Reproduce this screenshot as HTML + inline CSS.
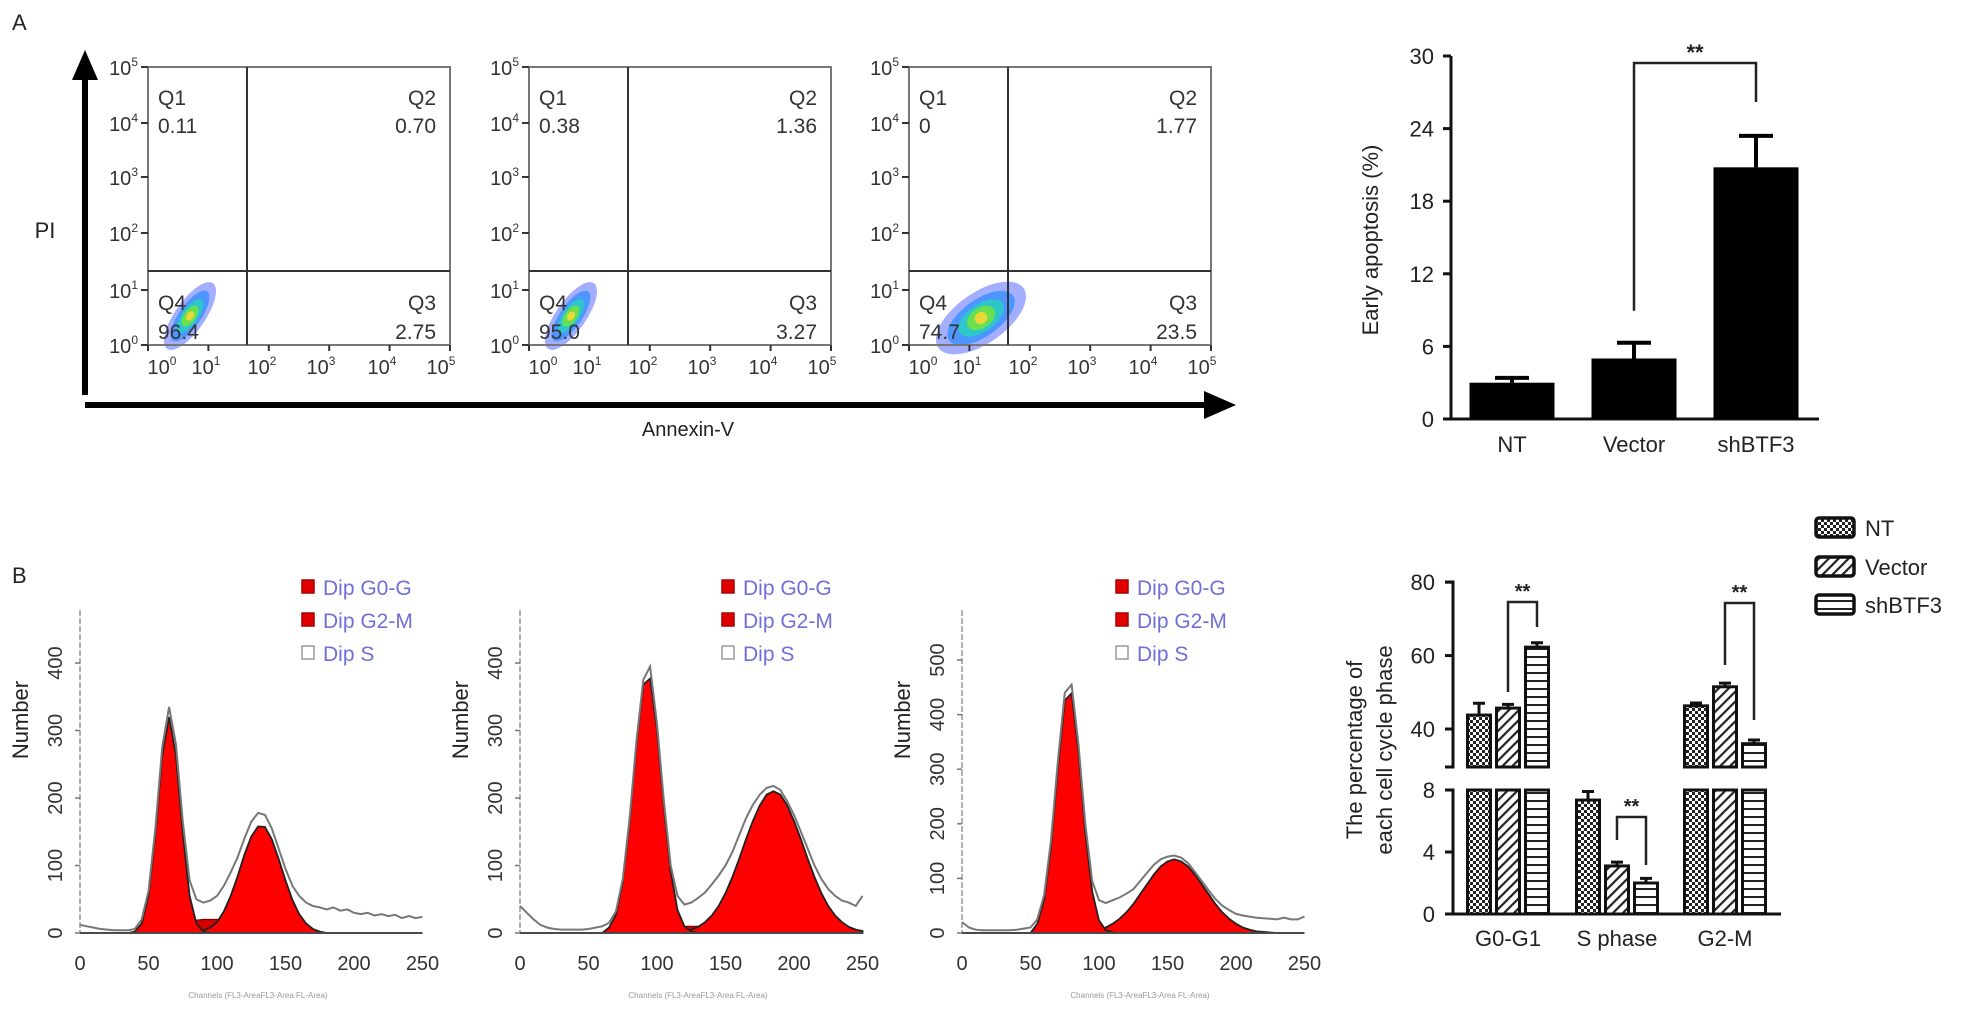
<!DOCTYPE html>
<html><head><meta charset="utf-8"><style>
html,body{margin:0;padding:0;background:#fff;}
svg{display:block;font-family:"Liberation Sans",Arial,sans-serif;}
</style></head><body>
<svg id="fig" width="1967" height="1014" viewBox="0 0 1967 1014" xmlns="http://www.w3.org/2000/svg">
<defs>
<pattern id="pNT" width="6" height="6" patternUnits="userSpaceOnUse"><rect width="6" height="6" fill="#fff"/><rect width="3" height="3" fill="#222"/><rect x="3" y="3" width="3" height="3" fill="#222"/></pattern>
<pattern id="pVec" width="7" height="7" patternUnits="userSpaceOnUse" patternTransform="rotate(45)"><rect width="7" height="7" fill="#fff"/><rect width="2.2" height="7" fill="#222"/></pattern>
<pattern id="pSh" width="8" height="8" patternUnits="userSpaceOnUse"><rect width="8" height="8" fill="#fff"/><rect width="8" height="2" fill="#222"/></pattern>
</defs>
<text x="12" y="30" font-size="22" fill="#222">A</text>
<text x="12" y="583" font-size="22" fill="#222">B</text>
<g id="flow"></g>
<g id="barA"></g>
<g id="hists"></g>
<g id="barB"></g>
</svg>
<script>
// ---------- Panel A bar chart data ----------
const apoCats = ['NT','Vector','shBTF3'];
const apoVals = [3.0, 5.0, 20.8];
const apoErr = [0.4, 1.3, 2.6];
const apoTicks = [0,6,12,18,24,30];

// ---------- Flow quadrant data ----------
const flowQ1 = ['0.11','0.38','0'];
const flowQ2 = ['0.70','1.36','1.77'];
const flowQ3 = ['2.75','3.27','23.5'];
const flowQ4 = ['96.4','95.0','74.7'];

// ---------- Histogram data (channel step 5, 0..250) ----------
const channels = [0,5,10,15,20,25,30,35,40,45,50,55,60,65,70,75,80,85,90,95,100,105,110,115,120,125,130,135,140,145,150,155,160,165,170,175,180,185,190,195,200,205,210,215,220,225,230,235,240,245,250];
const h1G1 = [0,0,0,0,0,0,0,0,2,14,55,147,263,320,263,147,55,14,2,0,0,0,0,0,0,0,0,0,0,0,0,0,0,0,0,0,0,0,0,0,0,0,0,0,0,0,0,0,0,0,0];
const h1G2 = [0,0,0,0,0,0,0,0,0,0,0,0,0,0,0,0,0,0,4,8,16,32,55,84,116,143,158,157,139,110,78,49,28,14,6,2,0,0,0,0,0,0,0,0,0,0,0,0,0,0,0];
const h1S = [0,0,0,0,0,0,0,0,0,0,0,0,3,6,10,14,17,19,20,20,20,19,17,14,11,8,5,3,1,0,0,0,0,0,0,0,0,0,0,0,0,0,0,0,0,0,0,0,0,0,0];
const h1Tot = [12,10,8,6,5,4,4,4,6,20,62,155,275,335,280,165,78,50,45,48,55,70,90,112,140,165,178,175,155,125,95,70,55,45,40,38,35,38,33,35,30,28,30,26,28,25,27,22,25,22,24];
const h2G1 = [0,0,0,0,0,0,0,0,0,0,0,0,0,8,27,76,165,280,368,377,301,187,91,34,10,2,0,0,0,0,0,0,0,0,0,0,0,0,0,0,0,0,0,0,0,0,0,0,0,0,0];
const h2G2 = [0,0,0,0,0,0,0,0,0,0,0,0,0,0,0,0,0,0,0,0,0,0,0,0,3,5,9,16,26,40,59,83,110,139,166,189,205,210,205,189,166,139,110,83,59,40,26,16,9,5,3];
const h2S = [0,0,0,0,0,0,0,0,0,0,0,0,0,0,0,0,0,0,0,3,5,7,8,9,10,10,10,10,9,8,7,6,5,4,3,2,1,0,0,0,0,0,0,0,0,0,0,0,0,0,0];
const h2Tot = [40,30,20,12,8,6,5,5,5,5,6,8,10,15,32,80,170,285,375,395,310,195,100,55,42,45,52,60,72,85,100,120,145,170,190,205,215,218,212,195,175,150,125,100,80,65,55,48,45,40,55];
const h3G1 = [0,0,0,0,0,0,0,0,0,0,0,17,61,159,303,426,439,332,185,76,23,5,1,0,0,0,0,0,0,0,0,0,0,0,0,0,0,0,0,0,0,0,0,0,0,0,0,0,0,0,0];
const h3G2 = [0,0,0,0,0,0,0,0,0,0,0,0,0,0,0,0,0,0,0,0,0,10,17,26,38,53,71,89,107,122,131,135,131,122,107,89,71,53,38,26,17,10,6,3,2,1,0,0,0,0,0];
const h3S = [0,0,0,0,0,0,0,0,0,0,0,0,0,0,0,0,2,4,6,8,9,10,10,9,8,7,5,4,3,2,1,0,0,0,0,0,0,0,0,0,0,0,0,0,0,0,0,0,0,0,0];
const h3Tot = [20,10,6,5,5,5,5,5,6,8,10,25,70,170,315,440,455,345,200,95,60,55,60,65,72,80,95,110,125,135,140,142,138,128,112,95,78,62,50,42,35,32,30,28,27,26,25,28,25,25,30];
const histXTicks = [0,50,100,150,200,250];
const histYTicks12 = [0,100,200,300,400];
const histYTicks3 = [0,100,200,300,400,500];

// ---------- Panel B bar chart data ----------
const phaseCats = ['G0-G1','S phase','G2-M'];
const ntPhase = [43.8, 7.35, 46.3];
const ntPhaseErr = [3.2, 0.55, 0.8];
const vecPhase = [45.7, 3.1, 51.5];
const vecPhaseErr = [1.0, 0.25, 1.0];
const shPhase = [62.3, 2.0, 36.0];
const shPhaseErr = [1.2, 0.3, 1.0];
const phaseTicksLow = [0,4,8];
const phaseTicksHigh = [40,60,80];

const NS='http://www.w3.org/2000/svg';
function el(tag, attrs, parent, txt){const e=document.createElementNS(NS,tag);for(const k in attrs)e.setAttribute(k,attrs[k]);if(txt!==undefined)e.textContent=txt;parent.appendChild(e);return e;}

// ================= Flow plots =================
const flow=document.getElementById('flow');
const flowLeft=[148,529,909];
const FT=67,FB=345,FW=302;
const yTickY=[345,290,233,177,123,67];
const xTickOff=[18,62,118,177,238,297];
// axes arrows
let a=el('line',{x1:85,y1:395,x2:85,y2:78,stroke:'#000','stroke-width':6},flow);


a=el('polygon',{points:'85,50 72,80 98,80',fill:'#000'},flow);


a=el('line',{x1:85,y1:405,x2:1205,y2:405,stroke:'#000','stroke-width':6},flow);


a=el('polygon',{points:'1236,405 1204,391 1204,419',fill:'#000'},flow);


a=el('text',{x:45,y:238,'font-size':22,'text-anchor':'middle',fill:'#222'},flow,'PI');


a=el('text',{x:688,y:436,'font-size':20,'text-anchor':'middle',fill:'#222'},flow,'Annexin-V');



flowLeft.forEach((L,p)=>{
  const g=el('g',{},flow);
  
  
  // density blob
  const cx = p===2 ? L+72 : L+42, cy = p===2 ? 318 : 316;
  const rot = p===2 ? -35 : -55;
  const scale = p===2 ? 1.3 : 1;
  const layers=[[40,15,'#5a6cff',0.55],[30,11,'#2a8cff',0.7],[20,8,'#28d0c0',0.85],[12,6,'#6ee04a',0.95],[5,3.5,'#e8d83a',1]];
  layers.forEach((ly,i)=>{
    const e=el('ellipse',{cx:cx,cy:cy,rx:ly[0]*scale,ry:ly[1]*scale*(p===2?1.3:1),fill:ly[2],opacity:ly[3],transform:`rotate(${rot} ${cx} ${cy})`},g);
    
    
  });
  let r=el('rect',{x:L,y:FT,width:FW,height:FB-FT,fill:'none',stroke:'#777','stroke-width':2},g);
  
  
  r=el('line',{x1:L+99,y1:FT,x2:L+99,y2:FB,stroke:'#333','stroke-width':2},g);
  
  
  r=el('line',{x1:L,y1:271,x2:L+FW,y2:271,stroke:'#333','stroke-width':2},g);
  
  
  // y ticks
  yTickY.forEach((y,i)=>{
    let t=el('line',{x1:L-7,y1:y,x2:L,y2:y,stroke:'#333','stroke-width':2},g);
    
    
    t=el('text',{x:L-10,y:y+8,'font-size':20,'text-anchor':'end',fill:'#333'},g);
    
    
    const t1=el('tspan',{},t,'10');const t2=el('tspan',{dy:-9,'font-size':12},t,String(i));
  });
  xTickOff.forEach((o,i)=>{
    let t=el('line',{x1:L+i*60.4,y1:FB,x2:L+i*60.4,y2:FB+6,stroke:'#333','stroke-width':2},g);
    
    
    t=el('text',{x:L+o-4,y:374,'font-size':20,'text-anchor':'middle',fill:'#333'},g);
    
    
    el('tspan',{},t,'10');el('tspan',{dy:-9,'font-size':12},t,String(i));
  });
  const q=[['Q1',L+10,105,'start'],[flowQ1[p],L+10,133,'start'],['Q2',L+FW-14,105,'end'],[flowQ2[p],L+FW-14,133,'end'],
           ['Q4',L+10,310,'start'],[flowQ4[p],L+10,339,'start'],['Q3',L+FW-14,310,'end'],[flowQ3[p],L+FW-14,339,'end']];
  q.forEach(d=>{
    const t=el('text',{x:d[1],y:d[2],'font-size':21,'text-anchor':d[3],fill:'#333'},g,d[0]);
    
    
  });
});

// ================= Panel A bar chart =================
const bA=document.getElementById('barA');
const aX0=1451, aY0=419, aK=12.1;
const aCx=[1512,1634,1756], aW=85;
function ay(v){return aY0-v*aK;}
let e=el('line',{x1:aX0,y1:ay(30),x2:aX0,y2:aY0,stroke:'#111','stroke-width':3},bA);


e=el('line',{x1:1443,y1:aY0,x2:1819,y2:aY0,stroke:'#111','stroke-width':3},bA);


apoTicks.forEach(v=>{
  let t=el('line',{x1:aX0-8,y1:ay(v),x2:aX0,y2:ay(v),stroke:'#111','stroke-width':3},bA);
  
  
  t=el('text',{x:1434,y:ay(v)+8,'font-size':22,'text-anchor':'end',fill:'#222'},bA,String(v));
  
  
});
apoCats.forEach((c,i)=>{
  const cx=aCx[i];
  let b=el('rect',{x:cx-aW/2,y:ay(apoVals[i]),width:aW,height:aY0-ay(apoVals[i]),fill:'#000'},bA);
  
  
  b=el('path',{d:`M${cx},${ay(apoVals[i])} V${ay(apoVals[i]+apoErr[i])} M${cx-17},${ay(apoVals[i]+apoErr[i])} H${cx+17}`,stroke:'#000','stroke-width':4,fill:'none'},bA);
  
  
  b=el('text',{x:cx,y:452,'font-size':22,'text-anchor':'middle',fill:'#222'},bA,c);
  
  
});
e=el('path',{d:`M${aCx[1]},${ay(apoVals[1]+apoErr[1])-32} V63 H${aCx[2]} V102`,stroke:'#222','stroke-width':2.5,fill:'none'},bA);


e=el('text',{x:(aCx[1]+aCx[2])/2,y:60,'font-size':22,'font-weight':'bold','text-anchor':'middle',fill:'#222'},bA,'**');


e=el('text',{x:0,y:0,'font-size':22,'text-anchor':'middle',fill:'#222',transform:'translate(1378,240) rotate(-90)'},bA,'Early apoptosis  (%)');



// ================= Histograms =================
const H=document.getElementById('hists');
const hOrig=[80,520,962], hK=1.37, hBase=933;
const hScale=[0.675,0.675,0.546];
const hG1=[h1G1,h2G1,h3G1], hG2=[h1G2,h2G2,h3G2], hS=[h1S,h2S,h3S], hTot=[h1Tot,h2Tot,h3Tot];
const hYT=[histYTicks12,histYTicks12,histYTicks3];
function areaPath(arr,hx,hy){let d=`M${hx(channels[0])},${hy(0)}`;arr.forEach((v,i)=>{d+=` L${hx(channels[i]).toFixed(1)},${hy(v).toFixed(1)}`;});d+=` L${hx(channels[channels.length-1])},${hy(0)} Z`;return d;}
function linePath(arr,hx,hy){return arr.map((v,i)=>(i?'L':'M')+hx(channels[i]).toFixed(1)+','+hy(v).toFixed(1)).join(' ');}
for(let p=0;p<3;p++){
  const X0=hOrig[p], sc=hScale[p];
  const hx=c=>X0+c*hK, hy=v=>hBase-v*sc;
  const g=el('g',{},H);
  
  
  let t=el('line',{x1:X0,y1:610,x2:X0,y2:hBase,stroke:'#999','stroke-width':1.5,'stroke-dasharray':'6 2'},g);
  
  
  hYT[p].forEach(v=>{
    let k=el('line',{x1:X0-5,y1:hy(v),x2:X0,y2:hy(v),stroke:'#777','stroke-width':1.5},g);
    
    
    k=el('text',{x:0,y:0,'font-size':20,'text-anchor':'middle',fill:'#333',transform:`translate(${X0-18},${hy(v)}) rotate(-90)`},g,String(v));
    
    
  });
  histXTicks.forEach(v=>{
    const k=el('text',{x:hx(v),y:970,'font-size':20,'text-anchor':'middle',fill:'#333'},g,String(v));
    
    
  });
  t=el('text',{x:0,y:0,'font-size':22,'text-anchor':'middle',fill:'#222',transform:`translate(${X0-52},720) rotate(-90)`},g,'Number');
  
  
  t=el('text',{x:X0+178,y:998,'font-size':8,'text-anchor':'middle',fill:'#999'},g,'Channels (FL3-AreaFL3-Area FL-Area)');
  
  
  // series
  t=el('path',{d:areaPath(hS[p],hx,hy),fill:'#d40000',stroke:'#700','stroke-width':1.2},g);
  
  
  t=el('path',{d:areaPath(hG2[p],hx,hy),fill:'#ff0000',stroke:'#222','stroke-width':1.8},g);
  
  
  t=el('path',{d:areaPath(hG1[p],hx,hy),fill:'#ff0000',stroke:'#222','stroke-width':1.8},g);
  
  
  t=el('path',{d:linePath(hTot[p],hx,hy),fill:'none',stroke:'#777','stroke-width':2},g);
  
  
  t=el('line',{x1:X0,y1:hBase,x2:hx(250),y2:hBase,stroke:'#555','stroke-width':1.5},g);
  
  
  // legend
  const lx=[308,728,1122][p];
  [['Dip G0-G','#e00000'],['Dip G2-M','#e00000'],['Dip S','none']].forEach((d,i)=>{
    const yy=587+i*33;
    let s=el('rect',{x:lx-6,y:yy-7,width:12,height:13,fill:d[1]==='none'?'#fff':d[1],stroke:d[1]==='none'?'#999':'#a00','stroke-width':1.5},g);
    
    
    s=el('text',{x:lx+15,y:yy+8,'font-size':21,fill:'#6f6fd8'},g,d[0]);
    
    
  });
}

// ================= Panel B bar chart =================
const B=document.getElementById('barB');
const bX0=1453;
function yLow(v){return 914-v*15.5;}
function yHigh(v){return 729-(v-40)*3.67;}
function yAny(v){return v<=8?yLow(v):yHigh(v);}
e=el('path',{d:'M1445,582 H1453 V767 H1445',stroke:'#111','stroke-width':3,fill:'none'},B);


e=el('path',{d:'M1445,790 H1453 V914',stroke:'#111','stroke-width':3,fill:'none'},B);


e=el('line',{x1:1446,y1:914,x2:1781,y2:914,stroke:'#111','stroke-width':3},B);


phaseTicksLow.concat(phaseTicksHigh).forEach(v=>{
  let t=el('line',{x1:bX0-8,y1:yAny(v),x2:bX0,y2:yAny(v),stroke:'#111','stroke-width':3},B);
  
  
  t=el('text',{x:1435,y:yAny(v)+8,'font-size':22,'text-anchor':'end',fill:'#222'},B,String(v));
  
  
});
const grpC=[1508,1617,1725], offs=[-29,0,29], bw=23;
const series=[[ntPhase,ntPhaseErr,'url(#pNT)','nt'],[vecPhase,vecPhaseErr,'url(#pVec)','vector'],[shPhase,shPhaseErr,'url(#pSh)','shbtf3']];
phaseCats.forEach((c,gi)=>{
  series.forEach((s,si)=>{
    const v=s[0][gi], er=s[1][gi], cx=grpC[gi]+offs[si];
    if(v>8){
      let r=el('rect',{x:cx-bw/2,y:790,width:bw,height:914-790,fill:s[2],stroke:'#111','stroke-width':3},B);
      
      
      r=el('rect',{x:cx-bw/2,y:yHigh(v),width:bw,height:767-yHigh(v),fill:s[2],stroke:'#111','stroke-width':3},B);
      
      
    } else {
      const r=el('rect',{x:cx-bw/2,y:yLow(v),width:bw,height:914-yLow(v),fill:s[2],stroke:'#111','stroke-width':3},B);
      
      
    }
    const eb=el('path',{d:`M${cx},${yAny(v)} V${yAny(v+er)} M${cx-6},${yAny(v+er)} H${cx+6}`,stroke:'#111','stroke-width':3,fill:'none'},B);
    
    
  });
  const l=el('text',{x:grpC[gi],y:946,'font-size':22,'text-anchor':'middle',fill:'#222'},B,c);
  
  
});
// significance brackets
[[0,692,602,627],[1,840,817,865],[2,665,603,720]].forEach(d=>{
  const x1=grpC[d[0]], x2=grpC[d[0]]+29;
  let p=el('path',{d:`M${x1},${d[1]} V${d[2]} H${x2} V${d[3]}`,stroke:'#222','stroke-width':2.5,fill:'none'},B);
  
  
  p=el('text',{x:(x1+x2)/2,y:d[2]-4,'font-size':20,'font-weight':'bold','text-anchor':'middle',fill:'#222'},B,'**');
  
  
});
e=el('text',{x:0,y:0,'font-size':22,'text-anchor':'middle',fill:'#222',transform:'translate(1362,750) rotate(-90)'},B,'The percentage of');


e=el('text',{x:0,y:0,'font-size':22,'text-anchor':'middle',fill:'#222',transform:'translate(1392,750) rotate(-90)'},B,'each cell cycle phase');


// legend
[['NT','url(#pNT)',528],['Vector','url(#pVec)',567],['shBTF3','url(#pSh)',605]].forEach(d=>{
  let r=el('rect',{x:1816,y:d[2]-10,width:38,height:19,rx:3,fill:d[1],stroke:'#111','stroke-width':3.5},B);
  
  
  r=el('text',{x:1865,y:d[2]+8,'font-size':22,fill:'#222'},B,d[0]);
  
  
});
</script>
</body></html>
